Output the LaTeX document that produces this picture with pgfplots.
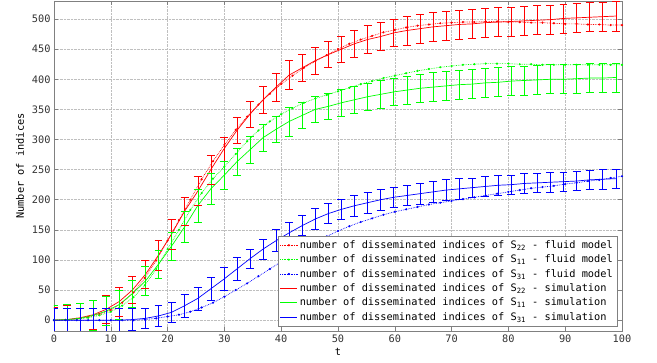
\documentclass[border=0pt]{standalone}
\usepackage{fontspec}
\setmainfont{DejaVu Sans Mono}
\usepackage{pgfplots}
\usepackage{pgfplotstable}
\pgfplotsset{compat=1.18}

\definecolor{cR}{RGB}{255,0,0}
\definecolor{cG}{RGB}{0,255,0}
\definecolor{cB}{RGB}{0,0,255}

\pgfplotstableread{
x     r    re  g    ge  b    be
0     0    22  0    24  0    20
2.3   1    23  1    25  0    20
4.6   4    24  3    25  0    20
6.9   9    24  8    25  0    19
9.2   18   24  15   24  0    19
11.5  31   24  26   24  0    19
13.8  50   22  44   22  1    18
16.1  76   24  65   24  3    17
18.4  108  25  93   23  7    17
20.7  143  25  123  23  13   17
23.0  181  23  155  26  24   19
25.3  214  24  190  27  36   19
27.6  250  24  218  26  52   19
29.9  284  20  240  23  68   19
32.2  315  22  263  23  85   19
34.5  342  22  283  22  102  16
36.8  366  23  303  22  118  17
39.1  387  23  317  22  132  18
41.4  407  24  330  24  145  17
43.7  419  22  340  22  157  17
46.0  431  22  350  22  168  17
48.3  441  22  355  22  177  17
50.6  450  22  361  23  184  17
52.9  459  23  366  23  190  17
55.2  466  23  371  23  195  17
57.5  471  23  375  23  200  17
59.8  477  23  379  23  204  17
62.1  481  24  382  23  207  17
64.4  484  24  385  24  210  17
66.7  487  24  387  24  213  17
69.0  489  24  389  24  216  17
71.3  491  24  391  24  218  17
73.6  492  24  392  24  220  16
75.9  494  24  394  24  222  16
78.2  495  24  395  24  224  16
80.5  496  24  397  24  225  16
82.8  497  24  398  24  227  16
85.1  498  24  399  24  228  16
87.4  499  24  400  24  229  16
89.7  501  24  400  24  230  16
92.0  502  24  401  24  231  16
94.3  503  24  402  24  233  16
96.6  504  24  402  24  234  16
98.9  505  25  403  24  235  16
}\simtab

\pgfplotstableread{
x   r    g    b
0   0    0    0
2   0.5  0.5  0
4   2    2    0
6   5    4    0
8   10   8    0
10  17   14   0
12  29   24   0
14  46   38   0
16  70   58   1
18  99   85   3
20  132  118  6
22  166  150  9
24  200  183  14
26  234  211  21
28  264  235  29
30  291  255  39
32  316  276  50
34  338  297  61
36  358  315  73
38  376  330  85
40  392  342  97
42  406  352  108
44  419  361  119
46  430  368  129
48  440  374  139
50  450  380  148
52  459  386  156
54  466  392  163
56  472  397  169
58  478  402  175
60  482  406  180
62  486  410  184
64  489  414  188
66  491  417  192
68  493  420  195
70  494  422  198
72  495  424  201
74  495  425  204
76  496  426  207
78  496  426  210
80  495  426  213
82  495  425  216
84  494  425  219
86  494  424  221
88  493  424  223
90  492  424  226
92  492  424  228
94  491  424  231
96  491  424  233
98  490  424  236
100 490  424  239
}\fluidtab

\newcommand{\fs}{\fontsize{10.3pt}{12pt}\selectfont}

\begin{document}
\begin{tikzpicture}
\useasboundingbox (-54pt,-32pt) rectangle (603pt,331pt);
\begin{axis}[
  scale only axis, width=568pt, height=330pt,
  xmin=0, xmax=100, ymin=-18, ymax=530,
  xtick={0,10,...,100}, ytick={0,50,...,500},
  /pgf/number format/assume math mode=true,
  tick label style={font=\fs, black!80},
  label style={font=\fs},
  grid=major, major grid style={densely dotted, black!25, line width=0.5pt},
  axis line style={black!50, line width=0.6pt},
  tick style={black!50, line width=0.5pt},
  tick align=inside,
  xlabel={t},
  ylabel={Number of indices},
  xlabel style={at={(axis description cs:0.5,0)}, anchor=center, yshift=-21pt},
  ylabel style={at={(axis description cs:-0.06,0.5)}, anchor=center},
  legend cell align=left,
  legend style={at={(1,0)}, anchor=south east, xshift=-5pt, yshift=5pt,
    draw=black!50, fill=white, font=\fs, row sep=1pt, inner sep=2pt},
]
\addplot[cR, densely dotted, line width=0.7pt, mark=*, mark size=0.7pt, mark options={solid}] table[x=x, y=r] {\fluidtab};
\addlegendentry{number of disseminated indices of S\textsubscript{22} - fluid model}
\addplot[cG, densely dotted, line width=0.7pt, mark=*, mark size=0.7pt, mark options={solid}] table[x=x, y=g] {\fluidtab};
\addlegendentry{number of disseminated indices of S\textsubscript{11} - fluid model}
\addplot[cB, densely dotted, line width=0.7pt, mark=*, mark size=0.7pt, mark options={solid}] table[x=x, y=b] {\fluidtab};
\addlegendentry{number of disseminated indices of S\textsubscript{31} - fluid model}

\addplot[cR, line width=0.7pt, mark=none, error bars/.cd, y dir=both, y explicit, error mark=none]
  table[x=x, y=r, y error=re] {\simtab};
\addlegendentry{number of disseminated indices of S\textsubscript{22} - simulation}
\addplot[cG, line width=0.7pt, mark=none, error bars/.cd, y dir=both, y explicit, error mark=none]
  table[x=x, y=g, y error=ge] {\simtab};
\addlegendentry{number of disseminated indices of S\textsubscript{11} - simulation}
\addplot[cB, line width=0.7pt, mark=none, error bars/.cd, y dir=both, y explicit, error mark=none]
  table[x=x, y=b, y error=be] {\simtab};
\addlegendentry{number of disseminated indices of S\textsubscript{31} - simulation}

% caps of the error bars, drawn as short horizontal segments
\addplot[cR, line width=0.7pt, forget plot, quiver={u=1.4, v=0}] table[x expr=\thisrow{x}-0.7, y expr=\thisrow{r}+\thisrow{re}] {\simtab};
\addplot[cR, line width=0.7pt, forget plot, quiver={u=1.4, v=0}] table[x expr=\thisrow{x}-0.7, y expr=\thisrow{r}-\thisrow{re}] {\simtab};
\addplot[cG, line width=0.7pt, forget plot, quiver={u=1.4, v=0}] table[x expr=\thisrow{x}-0.7, y expr=\thisrow{g}+\thisrow{ge}] {\simtab};
\addplot[cG, line width=0.7pt, forget plot, quiver={u=1.4, v=0}] table[x expr=\thisrow{x}-0.7, y expr=\thisrow{g}-\thisrow{ge}] {\simtab};
\addplot[cB, line width=0.7pt, forget plot, quiver={u=1.4, v=0}] table[x expr=\thisrow{x}-0.7, y expr=\thisrow{b}+\thisrow{be}] {\simtab};
\addplot[cB, line width=0.7pt, forget plot, quiver={u=1.4, v=0}] table[x expr=\thisrow{x}-0.7, y expr=\thisrow{b}-\thisrow{be}] {\simtab};
\end{axis}
\end{tikzpicture}
\end{document}
